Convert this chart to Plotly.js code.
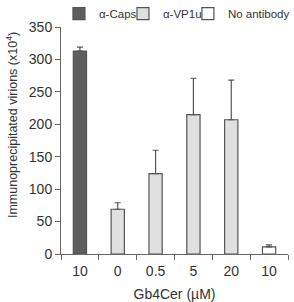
<!DOCTYPE html>
<html><head><meta charset="utf-8">
<script src="https://cdn.plot.ly/plotly-3.0.1.min.js"></script>
<style>html,body{margin:0;padding:0;background:#fff}#c{width:294px;height:302px}</style>
</head><body><div id="c"></div>
<script>
var labels = ["10", "0", "0.5", "5", "20", "10"];
var capsIdx = [0];
var capsVals = [313];
var capsErr = [6];
var vp1uIdx = [1, 2, 3, 4];
var vp1uVals = [69, 124, 215, 207];
var vp1uErr = [10, 36, 56, 61];
var noAbIdx = [5];
var noAbVals = [11];
var noAbErr = [3];

function tr(name, x, y, e, fill, lg){
  return {type:'bar', name:name, x:x, y:y, width:0.35, legend:lg,
    marker:{color:fill, line:{color:'#555555', width:1.2}},
    error_y:{type:'data', array:e, arrayminus:e.map(function(){return 0;}), symmetric:false, color:'#555555', thickness:1.2, width:3}};
}
var data = [
  tr('α-Caps', capsIdx, capsVals, capsErr, '#5e5e5e', 'legend'),
  tr('α-VP1u', vp1uIdx, vp1uVals, vp1uErr, '#e0e0e0', 'legend2'),
  tr('No antibody', noAbIdx, noAbVals, noAbErr, '#ffffff', 'legend3')
];
var idx = labels.map(function(_, i){return i;});
function lg(x){
  return {orientation:'h', x:x, y:1.059, xanchor:'left', yanchor:'middle', font:{size:11.5}, itemwidth:30, borderwidth:0, bgcolor:'rgba(0,0,0,0)'};
}
var layout = {
  width:294, height:302, margin:{l:61, r:6, t:27, b:48, autoexpand:false},
  barmode:'overlay', showlegend:true,
  font:{family:'Liberation Sans, Arial, sans-serif', size:14, color:'#333'},
  paper_bgcolor:'#fff', plot_bgcolor:'#fff',
  legend:lg(-0.009), legend2:lg(0.273), legend3:lg(0.559),
  xaxis:{range:[-0.5,5.5], tickmode:'array', tickvals:idx, ticktext:labels, ticks:'', showgrid:false, zeroline:false,
    showline:true, linecolor:'#666', linewidth:1, ticklabelstandoff:4,
    minor:{tickmode:'linear', tick0:0.5, dtick:1, ticks:'outside', ticklen:5, tickcolor:'#666', showgrid:false},
    title:{text:'Gb4Cer (µM)', font:{size:14}, standoff:12}, fixedrange:true},
  yaxis:{range:[0,350], dtick:50, ticks:'outside', ticklen:5, tickcolor:'#666', showgrid:false, zeroline:false,
    showline:true, linecolor:'#666', linewidth:1},
  annotations:[{text:'Immunoprecipitated virions (x10<sup>4</sup>)', textangle:-90, xref:'paper', yref:'paper',
    x:-0.216, y:0.568, xanchor:'center', yanchor:'middle', showarrow:false, font:{size:12.5, color:'#333'}}]
};
Plotly.newPlot('c', data, layout, {staticPlot:true});
</script></body></html>
